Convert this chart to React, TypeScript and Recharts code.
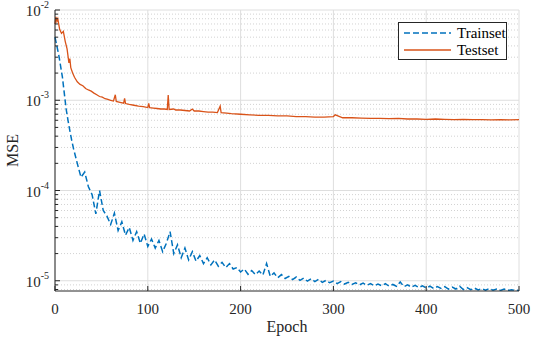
import {
  CartesianGrid,
  Legend,
  Line,
  LineChart,
  ReferenceLine,
  XAxis,
  YAxis,
} from "recharts";

const trainEpochs = [
  0, 2, 4, 6, 8, 10, 12, 14, 16, 18, 20, 24, 28, 32, 36, 40, 44, 48, 52, 56,
  60, 64, 68, 72, 76, 80, 84, 88, 92, 96, 100, 104, 108, 112, 116, 120, 124,
  128, 132, 136, 140, 144, 148, 152, 156, 160, 164, 168, 172, 176, 180, 184,
  188, 192, 196, 200, 204, 208, 212, 216, 220, 224, 228, 232, 236, 240, 244,
  248, 252, 256, 260, 264, 268, 272, 276, 280, 284, 288, 292, 296, 300, 304,
  308, 312, 316, 320, 324, 328, 332, 336, 340, 344, 348, 352, 356, 360, 364,
  368, 372, 376, 380, 384, 388, 392, 396, 400, 404, 408, 412, 416, 420, 424,
  428, 432, 436, 440, 444, 448, 452, 456, 460, 464, 468, 472, 476, 480, 484,
  488, 492, 496, 500,
];
const trainMSE = [
  5.0e-3, 4.0e-3, 3.2e-3, 2.4e-3, 1.8e-3, 1.2e-3, 8.0e-4, 6.0e-4, 4.6e-4,
  3.6e-4, 2.9e-4, 2.0e-4, 1.4e-4, 1.6e-4, 1.1e-4, 9.0e-5, 5.5e-5, 1.0e-4,
  6.0e-5, 5.2e-5, 4.2e-5, 5.6e-5, 3.6e-5, 4.5e-5, 3.2e-5, 3.9e-5, 2.8e-5,
  3.5e-5, 2.6e-5, 3.3e-5, 2.4e-5, 2.9e-5, 2.3e-5, 2.8e-5, 2.1e-5, 2.6e-5,
  3.5e-5, 2.0e-5, 2.5e-5, 1.8e-5, 2.3e-5, 1.7e-5, 2.1e-5, 1.65e-5, 1.9e-5,
  1.55e-5, 1.8e-5, 1.5e-5, 1.7e-5, 1.45e-5, 1.6e-5, 1.4e-5, 1.55e-5, 1.35e-5,
  1.4e-5, 1.25e-5, 1.35e-5, 1.18e-5, 1.3e-5, 1.17e-5, 1.28e-5, 1.16e-5, 1.55e-5,
  1.12e-5, 1.22e-5, 1.08e-5, 1.17e-5, 1.06e-5, 1.12e-5, 1.03e-5, 1.1e-5, 1.01e-5,
  1.07e-5, 9.9e-6, 1.05e-5, 9.8e-6, 1.04e-5, 9.6e-6, 1.01e-5, 9.5e-6, 9.9e-6,
  9.3e-6, 9.8e-6, 9.2e-6, 9.6e-6, 9.1e-6, 9.5e-6, 9.0e-6, 9.4e-6, 8.9e-6,
  9.3e-6, 8.8e-6, 9.2e-6, 8.8e-6, 9.3e-6, 8.7e-6, 9.1e-6, 8.7e-6, 9.7e-6,
  8.6e-6, 9.0e-6, 8.5e-6, 8.9e-6, 8.4e-6, 8.8e-6, 8.3e-6, 8.7e-6, 8.2e-6,
  8.6e-6, 8.2e-6, 8.6e-6, 8.1e-6, 8.5e-6, 8.1e-6, 8.7e-6, 8.0e-6, 8.4e-6,
  7.95e-6, 8.3e-6, 7.9e-6, 8.2e-6, 7.85e-6, 8.2e-6, 7.85e-6, 8.1e-6, 7.8e-6,
  8.1e-6, 7.8e-6, 7.95e-6, 7.8e-6, 7.8e-6,
];

const testEpochs = [
  0, 1, 2, 3, 5, 7, 9, 11, 13, 15, 16, 17, 19, 21, 24, 27, 30, 33, 36, 39, 42,
  45, 48, 51, 54, 57, 60, 63, 65, 66, 70, 74, 75, 76, 80, 85, 90, 95, 100, 101,
  102, 106, 110, 114, 118, 121, 122, 123, 128, 130, 135, 140, 145, 148, 150,
  155, 160, 165, 170, 175, 178, 179, 185, 190, 200, 210, 220, 230, 240, 250,
  260, 270, 280, 290, 300, 302, 310, 320, 330, 340, 350, 360, 370, 380, 390,
  400, 410, 420, 430, 440, 450, 460, 470, 480, 490, 500,
];
const testMSE = [
  7.0e-3, 8.4e-3, 7.5e-3, 8.0e-3, 6.1e-3, 5.5e-3, 5.8e-3, 4.5e-3, 3.7e-3,
  2.6e-3, 2.9e-3, 2.3e-3, 2.0e-3, 1.8e-3, 1.6e-3, 1.5e-3, 1.45e-3, 1.35e-3,
  1.3e-3, 1.26e-3, 1.2e-3, 1.15e-3, 1.1e-3, 1.08e-3, 1.04e-3, 1.02e-3, 1.0e-3,
  9.8e-4, 1.15e-3, 9.7e-4, 9.5e-4, 9.3e-4, 1.05e-3, 9.2e-4, 9.0e-4, 8.8e-4,
  8.6e-4, 8.5e-4, 8.3e-4, 9.2e-4, 8.3e-4, 8.2e-4, 8.1e-4, 8.0e-4, 8.0e-4,
  7.9e-4, 1.14e-3, 7.9e-4, 8.0e-4, 7.8e-4, 7.8e-4, 7.7e-4, 7.6e-4, 8.0e-4,
  7.6e-4, 7.6e-4, 7.5e-4, 7.4e-4, 7.4e-4, 7.3e-4, 8.6e-4, 7.3e-4, 7.2e-4,
  7.1e-4, 7.0e-4, 6.9e-4, 6.8e-4, 6.8e-4, 6.7e-4, 6.7e-4, 6.6e-4, 6.6e-4,
  6.5e-4, 6.5e-4, 6.6e-4, 6.9e-4, 6.4e-4, 6.4e-4, 6.35e-4, 6.3e-4, 6.3e-4,
  6.25e-4, 6.3e-4, 6.2e-4, 6.2e-4, 6.15e-4, 6.2e-4, 6.15e-4, 6.1e-4, 6.15e-4,
  6.1e-4, 6.1e-4, 6.05e-4, 6.1e-4, 6.05e-4, 6.1e-4,
];

const xTicks = [0, 100, 200, 300, 400, 500];
const majorTicks = [1e-5, 1e-4, 1e-3, 1e-2];
const majorExponents = ["-5", "-4", "-3", "-2"];
const minorTicks = [
  8e-6, 9e-6, 2e-5, 3e-5, 4e-5, 5e-5, 6e-5, 7e-5, 8e-5, 9e-5, 2e-4, 3e-4, 4e-4,
  5e-4, 6e-4, 7e-4, 8e-4, 9e-4, 2e-3, 3e-3, 4e-3, 5e-3, 6e-3, 7e-3, 8e-3, 9e-3,
];
const allYTicks = [...minorTicks, ...majorTicks].sort((a, b) => a - b);

const trainData = trainEpochs.map((epoch, i) => ({ epoch, mse: trainMSE[i] }));
const testData = testEpochs.map((epoch, i) => ({ epoch, mse: testMSE[i] }));

const W = 533;
const H = 340;
const LEFT = 55;
const RIGHT = 519;
const TOP = 10;
const BOTTOM = 291;
const AXIS = "#262626";
const BLUE = "#0072BD";
const ORANGE = "#D95319";
const FONT = "'Liberation Serif', 'Times New Roman', serif";

function LeftTick(props: any) {
  const { y, payload } = props;
  const idx = majorTicks.indexOf(payload.value);
  const len = idx >= 0 ? 5 : 3;
  return (
    <g>
      <line x1={LEFT} x2={LEFT + len} y1={y} y2={y} stroke={AXIS} />
      {idx >= 0 && (
        <text x={49} y={y + 6} textAnchor="end" fill={AXIS} fontSize={15}>
          10
          <tspan dy={-8} fontSize={10}>
            {majorExponents[idx]}
          </tspan>
        </text>
      )}
    </g>
  );
}

function RightTick(props: any) {
  const { y, payload } = props;
  const len = majorTicks.includes(payload.value) ? 5 : 3;
  return <line x1={RIGHT - len} x2={RIGHT} y1={y} y2={y} stroke={AXIS} />;
}

function BottomTick(props: any) {
  const { x, payload } = props;
  return (
    <g>
      <line x1={x} x2={x} y1={BOTTOM} y2={BOTTOM - 5} stroke={AXIS} />
      <text x={x} y={BOTTOM + 23} textAnchor="middle" fill={AXIS} fontSize={15}>
        {payload.value}
      </text>
    </g>
  );
}

function TopTick(props: any) {
  const { x } = props;
  return <line x1={x} x2={x} y1={TOP} y2={TOP + 5} stroke={AXIS} />;
}

function LegendBox() {
  return (
    <div
      style={{
        width: 109,
        height: 38,
        boxSizing: "border-box",
        border: `1px solid ${AXIS}`,
        background: "#fff",
        fontFamily: FONT,
        fontSize: 15,
        color: "#000",
      }}
    >
      <svg width={107} height={36} style={{ display: "block" }}>
        <line x1={5} x2={52} y1={10} y2={10} stroke={BLUE} strokeWidth={1.5} strokeDasharray="6 3" />
        <text x={58} y={15} fontSize={15}>Trainset</text>
        <line x1={5} x2={52} y1={27} y2={27} stroke={ORANGE} strokeWidth={1.5} />
        <text x={58} y={32} fontSize={15}>Testset</text>
      </svg>
    </div>
  );
}

export default function App() {
  return (
    <div
      style={{
        position: "absolute",
        left: 0,
        top: 0,
        width: W,
        height: H,
        background: "#fff",
        fontFamily: FONT,
      }}
    >
      <LineChart
        width={W}
        height={H}
        margin={{ top: TOP, right: W - RIGHT, bottom: 4, left: 0 }}
      >
        <CartesianGrid horizontal={false} stroke="#dedede" />
        {minorTicks.map((v) => (
          <ReferenceLine key={`m${v}`} y={v} stroke="#d2d2d2" strokeDasharray="1 2" />
        ))}
        {majorTicks.map((v) => (
          <ReferenceLine key={`M${v}`} y={v} stroke="#dedede" />
        ))}
        <XAxis
          dataKey="epoch"
          type="number"
          domain={[0, 500]}
          ticks={xTicks}
          height={45}
          stroke={AXIS}
          tickLine={false}
          tick={<BottomTick />}
          label={{ value: "Epoch", position: "insideBottom", offset: 4, fill: AXIS, fontSize: 16 }}
        />
        <XAxis
          xAxisId="top"
          orientation="top"
          type="number"
          domain={[0, 500]}
          ticks={xTicks}
          height={0}
          stroke={AXIS}
          tickLine={false}
          tick={<TopTick />}
        />
        <YAxis
          type="number"
          scale="log"
          domain={[7.7e-6, 1e-2]}
          allowDataOverflow
          ticks={allYTicks}
          interval={0}
          width={LEFT}
          stroke={AXIS}
          tickLine={false}
          tick={<LeftTick />}
          label={{
            value: "MSE",
            angle: -90,
            position: "insideLeft",
            offset: 12,
            fill: AXIS,
            fontSize: 16,
            style: { textAnchor: "middle" },
          }}
        />
        <YAxis
          yAxisId="right"
          orientation="right"
          type="number"
          scale="log"
          domain={[7.7e-6, 1e-2]}
          allowDataOverflow
          ticks={allYTicks}
          interval={0}
          width={0}
          stroke={AXIS}
          tickLine={false}
          tick={<RightTick />}
        />
        <Legend
          layout="vertical"
          align="center"
          verticalAlign="middle"
          content={() => <LegendBox />}
          wrapperStyle={{ left: 398, top: 22, width: 109, height: 38 }}
        />
        <Line
          data={trainData}
          dataKey="mse"
          name="Trainset"
          type="linear"
          stroke={BLUE}
          strokeWidth={1.5}
          strokeDasharray="6 3"
          dot={false}
          isAnimationActive={false}
        />
        <Line
          data={testData}
          dataKey="mse"
          name="Testset"
          type="linear"
          stroke={ORANGE}
          strokeWidth={1.3}
          dot={false}
          isAnimationActive={false}
        />
      </LineChart>
    </div>
  );
}
